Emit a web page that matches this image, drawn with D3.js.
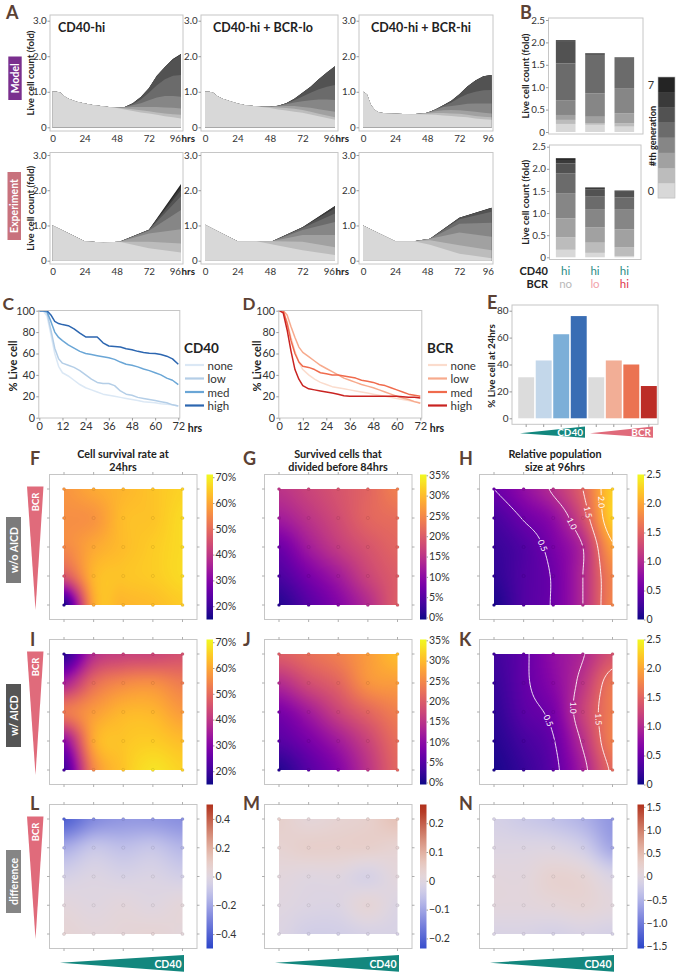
<!DOCTYPE html>
<html>
<head>
<meta charset="utf-8">
<script src="https://cdn.jsdelivr.net/npm/d3@7/dist/d3.min.js"></script>
<style>
html,body{margin:0;padding:0;background:#fff;}
svg{display:block;}
text{font-family:Lato,"Open Sans",Arial,sans-serif;}
</style>
</head>
<body>
<svg id="fig" width="676" height="974" viewBox="0 0 676 974"></svg>
<script>
// ======================= DATA =======================
const generations = ["g0","g1","g2","g3","g4","g5","g6","g7"];
const genColors = ["#d8d8d8","#bcbcbc","#a1a1a1","#868686","#6b6b6b","#525252","#3a3a3a","#242424"];
const genTickLabels = ["0","7"];

const conditionTitles = ["CD40-hi","CD40-hi + BCR-lo","CD40-hi + BCR-hi"];
const countTicks = [0,1,2,3];
const countTickLabels = ["0","1.0","2.0","3.0"];
const hourTicks = [0,24,48,72,96];

// model: live cell count per generation (rows = generation 0..7)
const modelTimes = [0,3,6,9,12,18,24,30,36,42,48,54,60,66,72,78,84,90,96];
const modelCD40hi = [
  [1.0,1.0,0.97,0.87,0.80,0.72,0.67,0.63,0.60,0.57,0.54,0.50,0.46,0.42,0.39,0.35,0.31,0.28,0.25],
  [0,0,0,0,0,0,0,0,0,0,0.02,0.03,0.05,0.06,0.06,0.07,0.08,0.09,0.10],
  [0,0,0,0,0,0,0,0,0,0,0,0.03,0.06,0.09,0.12,0.15,0.17,0.18,0.18],
  [0,0,0,0,0,0,0,0,0,0,0,0.01,0.05,0.11,0.19,0.27,0.32,0.33,0.33],
  [0,0,0,0,0,0,0,0,0,0,0,0,0.03,0.10,0.21,0.34,0.47,0.57,0.61],
  [0,0,0,0,0,0,0,0,0,0,0,0,0.03,0.07,0.13,0.27,0.35,0.45,0.57],
  [0,0,0,0,0,0,0,0,0,0,0,0,0,0,0,0,0,0.02,0.02],
  [0,0,0,0,0,0,0,0,0,0,0,0,0,0,0,0,0,0,0]
];
const modelBCRlo = [
  [1.0,1.0,0.97,0.88,0.82,0.74,0.67,0.62,0.60,0.57,0.54,0.50,0.47,0.44,0.41,0.36,0.31,0.26,0.21],
  [0,0,0,0,0,0,0,0,0,0.01,0.03,0.06,0.07,0.08,0.08,0.08,0.07,0.07,0.07],
  [0,0,0,0,0,0,0,0,0,0,0.01,0.03,0.06,0.08,0.08,0.11,0.13,0.14,0.16],
  [0,0,0,0,0,0,0,0,0,0,0,0.01,0.05,0.10,0.16,0.21,0.27,0.31,0.33],
  [0,0,0,0,0,0,0,0,0,0,0,0.01,0.02,0.06,0.14,0.21,0.29,0.36,0.42],
  [0,0,0,0,0,0,0,0,0,0,0,0,0.01,0.04,0.10,0.17,0.28,0.40,0.53],
  [0,0,0,0,0,0,0,0,0,0,0,0,0,0,0,0,0,0,0],
  [0,0,0,0,0,0,0,0,0,0,0,0,0,0,0,0,0,0,0]
];
const modelBCRhi = [
  [1.0,0.92,0.62,0.48,0.42,0.39,0.38,0.375,0.37,0.37,0.36,0.35,0.33,0.32,0.30,0.28,0.25,0.23,0.21],
  [0,0,0,0,0,0,0,0,0,0.01,0.03,0.05,0.07,0.07,0.08,0.07,0.07,0.07,0.07],
  [0,0,0,0,0,0,0,0,0,0,0.02,0.05,0.08,0.10,0.10,0.11,0.12,0.11,0.11],
  [0,0,0,0,0,0,0,0,0,0,0,0.04,0.09,0.11,0.15,0.20,0.23,0.26,0.28],
  [0,0,0,0,0,0,0,0,0,0,0,0.01,0.03,0.10,0.20,0.28,0.33,0.37,0.38],
  [0,0,0,0,0,0,0,0,0,0,0,0,0.02,0.05,0.10,0.21,0.32,0.40,0.42],
  [0,0,0,0,0,0,0,0,0,0,0,0,0,0,0,0,0,0,0],
  [0,0,0,0,0,0,0,0,0,0,0,0,0,0,0,0,0,0,0]
];
// experiment
const expTimes = [0,24,38,50,72,96];
const expCD40hi = [
  [1.0,0.55,0.52,0.54,0.35,0.23],[0,0,0,0,0.19,0.26],[0,0,0,0,0.23,0.40],[0,0,0,0,0.08,0.55],
  [0,0,0,0,0.02,0.39],[0,0,0,0,0.01,0.17],[0,0,0,0,0,0.10],[0,0,0,0,0,0.08]
];
const expBCRlo = [
  [1.02,0.55,0.55,0.46,0.30,0.16],[0,0,0,0.09,0.24,0.22],[0,0,0,0.01,0.19,0.35],[0,0,0,0,0.14,0.37],
  [0,0,0,0,0.06,0.24],[0,0,0,0,0.02,0.15],[0,0,0,0,0,0.06],[0,0,0,0,0,0]
];
const expBCRhi = [
  [1.0,0.55,0.55,0.45,0.20,0.07],[0,0,0,0.13,0.24,0.23],[0,0,0,0.04,0.36,0.38],[0,0,0,0,0.25,0.40],
  [0,0,0,0,0.13,0.31],[0,0,0,0,0.04,0.10],[0,0,0,0,0,0.01],[0,0,0,0,0,0]
];

// panel B: per-generation counts per condition (generation 0..7)
const barConditions = ["hi/no","hi/lo","hi/hi"];
const barCD40Labels = ["hi","hi","hi"];
const barBCRLabels = ["no","lo","hi"];
const barModel = [
  [0.18,0.09,0.11,0.33,0.82,0.50,0.02,0],
  [0.16,0.04,0.14,0.52,0.86,0.04,0,0],
  [0.12,0.07,0.23,0.56,0.69,0,0,0]
];
const barExp = [
  [0.17,0.28,0.43,0.57,0.45,0.22,0.08,0.04],
  [0.10,0.23,0.35,0.41,0.28,0.17,0.04,0],
  [0.03,0.20,0.40,0.46,0.26,0.13,0.03,0]
];
const barTicks = [0,0.5,1,1.5,2,2.5];
const barTickLabels = ["0","0.5","1.0","1.5","2.0","2.5"];

// panels C, D: % live cell over time
const survTimes = [0,2,4,6,8,10,12,15,18,21,24,27,30,33,36,39,42,45,48,51,54,57,60,63,66,69,72];
const levelNames = ["none","low","med","high"];
const cd40None = [100,100,95,78,60,48,42,39,35,31,28,26,24,22,21,20,19,18,17,16,15,14.5,14,13,12.5,12,11];
const cd40Low  = [100,100,98,82,65,55,51,49,47,44,40,36,33,32,32,30,25,22,21,19,18,17,16,15,14,12,11];
const cd40Med  = [100,100,99,90,80,75,72,68,65,62,60,59,58,57,56,54.5,52,50,49,47.5,45.5,44,42,40,37,35,31];
const cd40High = [100,100,100,96,90,88,87,86,83,79,75.5,75.5,75.5,70,67,66.5,66,64.5,63.5,62,61,60.3,60,59,57.5,55,50];
const bcrNone  = [100,98,90,75,62,52,45,40,36,33,31,29,28,27,26,25,24,23,22,21,20,19,18,17,16,15,14];
const bcrLow   = [100,100,96,85,75,66,61,57,53,49,46,43,40,37,35,33,31,29.5,28,26,24,22,20,18.5,17,15,13.5];
const bcrMed   = [100,100,88,72,60,52,48,47,45,42,41,40,40,39,38,37,35,34,33,31,30,28,26,24,22,21,20];
const bcrHigh  = [100,98,82,62,45,36,30,27,26,25,24,23,22,20.5,20,20,20,20,20,20,20,20,20,19.5,19,19,18.5];
const pctTicks = [0,20,40,60,80,100];
const survHourTicks = [0,12,24,36,48,60,72];

// panel E: % live cell at 24 hrs
const e24Groups = ["none","low","med","high","none","low","med","high"];
const e24Values = [30.5,43,62.5,76,30.5,43,40,24];
const e24Ticks = [0,20,40,60,80];

// panels F-N: 5x5 grids (rows: BCR high -> low, cols: CD40 low -> high)
const survNoAICD = [[57,60,62,64,66],[56,57,63,64,67],[55,60,63,65,67],[46,62,64,65,67],[17,60,62,63,65]];
const divNoAICD  = [[15,17,19,21,24],[12,15,18,21,22],[7,12,16,19,21],[4,8,12,17,20],[1,5,9,14,20]];
const popNoAICD  = [[0.50,0.75,1.05,1.50,2.25],[0.30,0.52,0.75,1.30,2.25],[0.20,0.35,0.60,1.00,1.95],[0.15,0.35,0.53,1.00,1.75],[0.06,0.35,0.53,1.00,1.75]];
const survAICD   = [[18,38,42,43,45],[36,50,55,56,53],[52,58,62,62,58],[32,60,64,65,63],[21,55,64,68,66]];
const divAICD    = [[20,22,24,27,30],[14,18,21,26,27],[8,12,17,21,24],[5,8,12,17,22],[1,5,9,15,21]];
const popAICD    = [[0.25,0.45,0.75,0.98,1.35],[0.20,0.45,0.70,1.10,1.65],[0.15,0.40,0.59,1.20,1.70],[0.10,0.28,0.48,1.05,1.72],[0.05,0.20,0.42,0.90,1.55]];
const diffSurv   = [[-0.40,-0.28,-0.24,-0.24,-0.26],[-0.18,-0.10,-0.12,-0.10,-0.15],[-0.05,-0.02,-0.04,-0.03,-0.06],[0.02,0.00,0.02,0.00,0.03],[0.05,0.03,0.04,0.05,0.03]];
const diffDiv    = [[0.04,0.02,0.03,0.04,0.07],[0.03,0.04,0.04,0.04,0.03],[0.01,0.0,0.0,-0.02,0.01],[0.0,-0.01,-0.01,0.02,-0.01],[-0.01,-0.03,-0.03,-0.02,-0.02]];
const diffPop    = [[-0.15,-0.25,-0.35,-0.5,-0.75],[-0.05,-0.05,-0.05,-0.2,-0.6],[0.05,0.05,0.2,0.15,-0.1],[0.05,0.05,0.1,0.15,0.05],[-0.1,-0.1,-0.15,-0.1,-0.15]];

const survCbTicks = [20,30,40,50,60,70];
const divCbTicks = [0,5,10,15,20,25,30,35];
const popCbTicks = [0,0.5,1,1.5,2,2.5];
const diffSurvTicks = [-0.4,-0.2,0,0.2,0.4];
const diffDivTicks = [-0.2,-0.1,0,0.1,0.2];
const diffPopTicks = [-1.5,-1.0,-0.5,0,0.5,1.0,1.5];
const popContourLevels = [0.5,1.0,1.5,2.0];

// ======================= DRAWING =======================
const svg = d3.select("#fig");
const FONT = 'Lato, "Open Sans", Arial, sans-serif';
const TXT = "#333333", FRAME = "#c6c6c6", TICK = "#9a9a9a", BROWN = "#5b4134";

function T(x, y, s, o = {}) {
  const t = svg.append("text").attr("x", x).attr("y", y).text(s)
    .attr("font-size", o.size || 10).attr("fill", o.fill || TXT)
    .attr("font-weight", o.weight || 400).attr("text-anchor", o.anchor || "start");
  if (o.rot != null) t.attr("transform", `rotate(${o.rot},${x},${y})`);
  if (o.mid) t.attr("dominant-baseline", "central");
  return t;
}
function letter(x, y, s, size = 18) { T(x, y, s, {size, weight: 700, fill: BROWN}); }
function frame(x0, y0, x1, y1) {
  svg.append("rect").attr("x", x0).attr("y", y0).attr("width", x1 - x0).attr("height", y1 - y0)
    .attr("fill", "none").attr("stroke", FRAME).attr("stroke-width", 1);
}
function styleAxis(g, size) {
  g.attr("font-family", FONT).attr("font-size", size);
  g.select(".domain").remove();
  g.selectAll(".tick line").attr("stroke", TICK);
  g.selectAll(".tick text").attr("fill", TXT);
}
function sideLabel(x, y, w, h, fill, s) {
  svg.append("rect").attr("x", x).attr("y", y).attr("width", w).attr("height", h).attr("fill", fill);
  T(x + w / 2, y + h / 2, s, {size: 10.5, weight: 700, fill: "#fff", anchor: "middle", rot: -90, mid: true});
}

// ---------- Panel A ----------
letter(6, 18.5, "A");
const aCols = [{x0: 50, x1: 183, r: [52.5, 181]}, {x0: 201, x1: 338, r: [205, 335]}, {x0: 359, x1: 493, r: [363, 491.5]}];
const aRows = [
  {top: 15, bottom: 131, r: [127.3, 20.7], times: modelTimes, sets: [modelCD40hi, modelBCRlo, modelBCRhi]},
  {top: 152.5, bottom: 264, r: [260.7, 155], times: expTimes, sets: [expCD40hi, expBCRlo, expBCRhi]}
];
aRows.forEach((row, ri) => {
  aCols.forEach((col, ci) => {
    const x = d3.scaleLinear().domain([0, 96]).range(col.r);
    const y = d3.scaleLinear().domain([0, 3]).range(row.r);
    const set = row.sets[ci];
    const table = row.times.map((t, i) => { const o = {t}; generations.forEach((g, k) => o[g] = set[k][i]); return o; });
    const series = d3.stack().keys(generations)(table);
    // draw cumulative areas from the top generation down, so layers never leave seams
    const area = d3.area().x(d => x(d.data.t)).y0(y(0)).y1(d => y(d[1]));
    for (let k = series.length - 1; k >= 0; k--) {
      svg.append("path").attr("d", area(series[k])).attr("fill", genColors[k]);
    }
    frame(col.x0, row.top, col.x1, row.bottom);
    const yg = svg.append("g").attr("transform", `translate(${col.x0},0)`)
      .call(d3.axisLeft(y).tickValues(countTicks).tickFormat((d, i) => countTickLabels[i]).tickSize(2.5).tickPadding(0.8));
    styleAxis(yg, 9.8);
    const xg = svg.append("g").attr("transform", `translate(0,${row.bottom})`)
      .call(d3.axisBottom(x).tickValues(hourTicks).tickFormat(d => d).tickSize(0).tickPadding(4));
    styleAxis(xg, 9.8);
    xg.selectAll(".tick text").filter(d => d === 96).attr("text-anchor", "end").attr("dx", ci < 2 ? -0.5 : 2);
    if (ci < 2) T(x(96) + 0.5, row.bottom + 11.3, "hrs", {size: 9.8, weight: 700, fill: "#222"});
    if (ri === 0) T(col.x0 + (ci === 0 ? 8 : 12), 32, conditionTitles[ci], {size: 12.5, weight: 700, fill: "#222"});
  });
  const cy = (row.top + row.bottom) / 2;
  T(30.5, cy, "Live cell count (fold)", {size: 9.6, weight: 700, fill: "#222", anchor: "middle", rot: -90, mid: true});
});
sideLabel(8.3, 56.5, 13.4, 43.5, "#7a2f8e", "Model");
sideLabel(7.5, 172, 13.5, 68, "#c8727d", "Experiment");

// ---------- Panel B ----------
letter(520, 18.5, "B");
const bBoxes = [
  {x0: 548.5, x1: 643, top: 18, bottom: 134, r: [132, 20], data: barModel},
  {x0: 549.5, x1: 641, top: 145, bottom: 259.5, r: [257.3, 146.7], data: barExp}
];
const bx = d3.scaleBand().domain(barConditions).range([550, 640]).paddingInner(0.33).paddingOuter(0.2);
bBoxes.forEach(b => {
  const y = d3.scaleLinear().domain([0, 2.5]).range(b.r);
  const table = b.data.map((gs, i) => { const o = {c: barConditions[i]}; generations.forEach((g, k) => o[g] = gs[k]); return o; });
  const series = d3.stack().keys(generations)(table);
  series.forEach((s, k) => {
    svg.append("g").selectAll("rect").data(s).join("rect")
      .attr("x", d => bx(d.data.c)).attr("width", bx.bandwidth())
      .attr("y", d => y(d[1])).attr("height", d => Math.max(0, y(d[0]) - y(d[1])))
      .attr("fill", genColors[k]);
  });
  frame(b.x0, b.top, b.x1, b.bottom);
  const yg = svg.append("g").attr("transform", `translate(${b.x0},0)`)
    .call(d3.axisLeft(y).tickValues(barTicks).tickFormat((d, i) => barTickLabels[i]).tickSize(2.5).tickPadding(1));
  styleAxis(yg, 9.8);
  T(525.5, (b.top + b.bottom) / 2, "Live cell count (fold)", {size: 9.6, weight: 700, fill: "#222", anchor: "middle", rot: -90, mid: true});
});
// generation colour bar
const gcb = d3.scaleBand().domain(d3.range(8)).range([198, 77]);
svg.append("g").selectAll("rect").data(d3.range(8)).join("rect")
  .attr("x", 658).attr("width", 17).attr("y", d => gcb(d)).attr("height", gcb.bandwidth() + 0.3)
  .attr("fill", d => genColors[d]);
svg.append("rect").attr("x", 658).attr("y", 77).attr("width", 17).attr("height", 121).attr("fill", "none").attr("stroke", "#bbb").attr("stroke-width", 0.6);
T(651, gcb(7) + gcb.bandwidth() / 2, genTickLabels[1], {size: 11, anchor: "middle", mid: true});
T(651, gcb(0) + gcb.bandwidth() / 2, genTickLabels[0], {size: 11, anchor: "middle", mid: true});
T(652, 136, "#th generation", {size: 9.2, weight: 700, fill: "#222", anchor: "middle", rot: -90, mid: true});
// condition labels
T(548, 274.5, "CD40", {size: 11, weight: 700, fill: "#222", anchor: "end"});
T(548, 287.5, "BCR", {size: 11, weight: 700, fill: "#222", anchor: "end"});
const bcrLabelColors = ["#b9b9b9", "#f2a3ab", "#e0364b"];
barConditions.forEach((c, i) => {
  T(bx(c) + bx.bandwidth() / 2, 274.5, barCD40Labels[i], {size: 11.5, fill: "#2a8c86", anchor: "middle"});
  T(bx(c) + bx.bandwidth() / 2, 287.5, barBCRLabels[i], {size: 11.5, fill: bcrLabelColors[i], anchor: "middle"});
});

// ---------- Panels C & D ----------
function survivalPanel(cfg) {
  const x = d3.scaleLinear().domain([0, 72]).range([cfg.px0, cfg.px1]);
  const y = d3.scaleLinear().domain([0, 100]).range([417.7, 310.7]);
  const line = d3.line().x((d, i) => x(survTimes[i])).y(d => y(d));
  cfg.series.forEach((s, k) => svg.append("path").attr("d", line(s)).attr("fill", "none")
    .attr("stroke", cfg.colors[k]).attr("stroke-width", 1.5).attr("stroke-linejoin", "round"));
  frame(cfg.px0 - 0.5, 310.5, cfg.px1 + 1.5, 418);
  const yg = svg.append("g").attr("transform", `translate(${cfg.px0 - 0.5},0)`)
    .call(d3.axisLeft(y).tickValues(pctTicks).tickSize(2.5).tickPadding(1.2));
  styleAxis(yg, 10.8);
  const xg = svg.append("g").attr("transform", "translate(0,418)")
    .call(d3.axisBottom(x).tickValues(survHourTicks).tickSize(2.5).tickPadding(2));
  styleAxis(xg, 11);
  T(cfg.px1 + 9.5, 431.5, "hrs", {size: 10.5, weight: 700, fill: "#222"});
  T(cfg.ylabX, 366, "% Live cell", {size: 11, weight: 700, fill: "#222", anchor: "middle", rot: -90, mid: true});
  T(cfg.legX, 352.7, cfg.title, {size: 13.5, weight: 700, fill: "#222"});
  levelNames.forEach((n, k) => {
    const yy = 365 + k * 13.5;
    svg.append("line").attr("x1", cfg.legX + 1).attr("x2", cfg.legX + 20).attr("y1", yy).attr("y2", yy)
      .attr("stroke", cfg.colors[k]).attr("stroke-width", 2.2);
    T(cfg.legX + 23.5, yy, n, {size: 11.5, fill: "#333", mid: true});
  });
}
letter(2.5, 310, "C", 17.5);
survivalPanel({px0: 39.3, px1: 178.3, series: [cd40None, cd40Low, cd40Med, cd40High],
  colors: ["#dbe8f5", "#b4cee7", "#6aa6d6", "#2c66b0"], title: "CD40", legX: 184, ylabX: 12});
letter(242.5, 310, "D", 17);
survivalPanel({px0: 279.3, px1: 420.3, series: [bcrNone, bcrLow, bcrMed, bcrHigh],
  colors: ["#fbdccd", "#f7aa8d", "#f06b4d", "#c92321"], title: "BCR", legX: 427, ylabX: 256.5});

// ---------- Panel E ----------
letter(487, 309, "E");
{
  const ex = d3.scaleBand().domain(d3.range(8)).range([517.5, 657.5]).paddingInner(0.09).paddingOuter(0.04);
  const ey = d3.scaleLinear().domain([0, 80]).range([418.3, 310.7]);
  const eColors = ["#dcdcdc", "#c3d7ea", "#7cafd8", "#396db4", "#dcdcdc", "#f2ae96", "#eb7352", "#bc2d27"];
  svg.append("g").selectAll("rect").data(e24Values).join("rect")
    .attr("x", (d, i) => ex(i)).attr("width", ex.bandwidth())
    .attr("y", d => ey(d)).attr("height", d => ey(0) - ey(d)).attr("fill", (d, i) => eColors[i]);
  frame(512, 305, 658, 424.3);
  const yg = svg.append("g").attr("transform", "translate(512,0)")
    .call(d3.axisLeft(ey).tickValues(e24Ticks).tickSize(2.5).tickPadding(1));
  styleAxis(yg, 10);
  svg.append("g").selectAll("line").data(d3.range(8)).join("line")
    .attr("x1", i => ex(i) + ex.bandwidth() / 2).attr("x2", i => ex(i) + ex.bandwidth() / 2)
    .attr("y1", 424.3).attr("y2", 427).attr("stroke", TICK);
  T(490.5, 366, "% Live cell at 24hrs", {size: 9.8, weight: 700, fill: "#222", anchor: "middle", rot: -90, mid: true});
  svg.append("polygon").attr("points", "520,433.3 585,426.5 585,437.8").attr("fill", "#13877e");
  T(583, 436.3, "CD40", {size: 10, weight: 700, fill: "#fff", anchor: "end"});
  svg.append("polygon").attr("points", "590,433.3 653,426.5 653,437.8").attr("fill", "#e06b7b");
  T(651, 436.3, "BCR", {size: 10, weight: 700, fill: "#fff", anchor: "end"});
}

// ---------- Panels F-N ----------
function cr(p0, p1, p2, p3, t) {
  return 0.5 * ((2 * p1) + (-p0 + p2) * t + (2 * p0 - 5 * p1 + 4 * p2 - p3) * t * t + (-p0 + 3 * p1 - 3 * p2 + p3) * t * t * t);
}
function sampleGrid(g, cx, cy) {
  const n = g.length, m = g[0].length;
  const ix = Math.min(Math.floor(cx), m - 2), iy = Math.min(Math.floor(cy), n - 2);
  const tx = cx - ix, ty = cy - iy;
  const G = (r, c) => g[Math.max(0, Math.min(n - 1, r))][Math.max(0, Math.min(m - 1, c))];
  const rows = [];
  for (let k = -1; k <= 2; k++) { const r = iy + k; rows.push(cr(G(r, ix - 1), G(r, ix), G(r, ix + 1), G(r, ix + 2), tx)); }
  return cr(rows[0], rows[1], rows[2], rows[3], ty);
}
const divergingRamp = d3.interpolateRgbBasis(["#2b45c9", "#8e90e2", "#f3f3f3", "#e0a28d", "#b1311c"]);
function divergingScale(max) { return d3.scaleSequential(t => divergingRamp(t)).domain([-max, max]).clamp(true); }

const hmCols = [
  {ix0: 64, ix1: 182.5, cb: 206.5, lx: 30, tx: 123},
  {ix0: 279, ix1: 397.5, cb: 420, lx: 243, tx: 338},
  {ix0: 494, ix1: 612.5, cb: 637.5, lx: 459, tx: 555}
];
const hmRows = [
  {iy0: 489, iy1: 605, ly: 465},
  {iy0: 654, iy1: 770, ly: 646},
  {iy0: 819, iy1: 934, ly: 810}
];
const plasmaSurv = d3.scaleSequential(d3.interpolatePlasma).domain([14.85, 71.05]).clamp(true);
const plasmaDiv = d3.scaleSequential(d3.interpolatePlasma).domain([-0.5, 35.2]).clamp(true);
const plasmaPop = d3.scaleSequential(d3.interpolatePlasma).domain([0, 2.5]).clamp(true);
const pctFmt = d => d + "%";
const decFmt = d => d === 0 ? "0" : d3.format(".1f")(d);
const panels = [
  {r: 0, c: 0, L: "F", grid: survNoAICD, color: plasmaSurv, dom: [14.85, 71.05], ticks: survCbTicks, fmt: pctFmt, title: ["Cell survival rate at", "24hrs"]},
  {r: 0, c: 1, L: "G", grid: divNoAICD, color: plasmaDiv, dom: [-0.5, 35.2], ticks: divCbTicks, fmt: pctFmt, title: ["Survived cells that", "divided before 84hrs"]},
  {r: 0, c: 2, L: "H", grid: popNoAICD, color: plasmaPop, dom: [0, 2.5], ticks: popCbTicks, fmt: decFmt, title: ["Relative population", "size at 96hrs"], contours: popContourLevels, lab: [0.55, 0.33, 0.2, 0.22]},
  {r: 1, c: 0, L: "I", grid: survAICD, color: plasmaSurv, dom: [14.85, 71.05], ticks: survCbTicks, fmt: pctFmt},
  {r: 1, c: 1, L: "J", grid: divAICD, color: plasmaDiv, dom: [-0.5, 35.2], ticks: divCbTicks, fmt: pctFmt},
  {r: 1, c: 2, L: "K", grid: popAICD, color: plasmaPop, dom: [0, 2.5], ticks: popCbTicks, fmt: decFmt, contours: popContourLevels.slice(0, 3), lab: [0.58, 0.45, 0.5]},
  {r: 2, c: 0, L: "L", grid: diffSurv, color: divergingScale(0.5), dom: [-0.5, 0.5], ticks: diffSurvTicks, fmt: decFmt},
  {r: 2, c: 1, L: "M", grid: diffDiv, color: divergingScale(0.25), dom: [-0.235, 0.265], ticks: diffDivTicks, fmt: decFmt},
  {r: 2, c: 2, L: "N", grid: diffPop, color: divergingScale(1.55), dom: [-1.55, 1.55], ticks: diffPopTicks, fmt: decFmt}
];
const defs = svg.append("defs");
panels.forEach((p, pi) => {
  const C = hmCols[p.c], R = hmRows[p.r];
  const {ix0, ix1} = C, {iy0, iy1} = R;
  const gx = d3.scaleLinear().domain([0, 4]).range([ix0, ix1]);
  const gy = d3.scaleLinear().domain([0, 4]).range([iy0, iy1]);
  // surface
  const W = Math.round(ix1 - ix0), H = Math.round(iy1 - iy0);
  const cv = document.createElement("canvas"); cv.width = W; cv.height = H;
  const ctx = cv.getContext("2d"); const img = ctx.createImageData(W, H);
  for (let j = 0; j < H; j++) for (let i = 0; i < W; i++) {
    const v = sampleGrid(p.grid, i / (W - 1) * 4, j / (H - 1) * 4);
    const c = d3.rgb(p.color(v)); const o = (j * W + i) * 4;
    img.data[o] = c.r; img.data[o + 1] = c.g; img.data[o + 2] = c.b; img.data[o + 3] = 255;
  }
  ctx.putImageData(img, 0, 0);
  svg.append("image").attr("x", ix0).attr("y", iy0).attr("width", ix1 - ix0).attr("height", iy1 - iy0)
    .attr("preserveAspectRatio", "none").attr("href", cv.toDataURL());
  // contours
  if (p.contours) {
    const N = 81, vals = new Array(N * N);
    for (let j = 0; j < N; j++) for (let i = 0; i < N; i++) vals[j * N + i] = sampleGrid(p.grid, i / (N - 1) * 4, j / (N - 1) * 4);
    const cs = d3.contours().size([N, N]).thresholds(p.contours)(vals);
    const sx = c => ix0 + (c - 0.5) / (N - 1) * (ix1 - ix0), sy = c => iy0 + (c - 0.5) / (N - 1) * (iy1 - iy0);
    const onB = pt => pt[0] < 0.5 || pt[0] > N - 0.5 || pt[1] < 0.5 || pt[1] > N - 0.5;
    const maskId = "cm" + pi, clipId = "cc" + pi;
    defs.append("clipPath").attr("id", clipId).append("rect").attr("x", ix0).attr("y", iy0).attr("width", ix1 - ix0).attr("height", iy1 - iy0);
    const mask = defs.append("mask").attr("id", maskId).attr("maskUnits", "userSpaceOnUse")
      .attr("x", 0).attr("y", 0).attr("width", 676).attr("height", 974);
    mask.append("rect").attr("x", 0).attr("y", 0).attr("width", 676).attr("height", 974).attr("fill", "#fff");
    const lg = svg.append("g").attr("clip-path", `url(#${clipId})`).attr("mask", `url(#${maskId})`);
    const labels = [];
    cs.forEach((c, ci) => {
      const lines = [];
      c.coordinates.forEach(poly => poly.forEach(ring => {
        const pts = ring.slice(0, -1);
        const bIdx = pts.findIndex(onB);
        if (bIdx < 0) { lines.push(ring.map(q => [sx(q[0]), sy(q[1])])); return; }
        const rot = pts.slice(bIdx).concat(pts.slice(0, bIdx));
        let cur = [];
        rot.forEach(q => {
          if (onB(q)) { if (cur.length > 1) lines.push(cur); cur = []; }
          else cur.push([sx(q[0]), sy(q[1])]);
        });
        if (cur.length > 1) lines.push(cur);
      }));
      lines.forEach(l => lg.append("path").attr("d", d3.line()(l)).attr("fill", "none").attr("stroke", "#fff").attr("stroke-width", 0.9));
      if (!lines.length) return;
      const len = l => d3.sum(l.slice(1), (q, i) => Math.hypot(q[0] - l[i][0], q[1] - l[i][1]));
      const best = lines.reduce((a, b) => len(b) > len(a) ? b : a);
      const target = len(best) * (p.lab ? p.lab[ci] : 0.5);
      let acc = 0, k = 1;
      for (; k < best.length; k++) { acc += Math.hypot(best[k][0] - best[k - 1][0], best[k][1] - best[k - 1][1]); if (acc >= target) break; }
      k = Math.min(k, best.length - 1);
      const a = best[Math.max(0, k - 3)], b = best[Math.min(best.length - 1, k + 3)];
      let ang = Math.atan2(b[1] - a[1], b[0] - a[0]) * 180 / Math.PI;
      if (ang > 90) ang -= 180; if (ang < -90) ang += 180;
      labels.push({x: best[k][0], y: best[k][1], ang, s: d3.format(".1f")(p.contours[ci])});
    });
    labels.forEach(l => {
      mask.append("rect").attr("x", -7).attr("y", -3.5).attr("width", 14).attr("height", 7).attr("fill", "#000")
        .attr("transform", `translate(${l.x},${l.y}) rotate(${l.ang})`);
      svg.append("text").attr("transform", `translate(${l.x},${l.y}) rotate(${l.ang})`)
        .attr("text-anchor", "middle").attr("dominant-baseline", "central")
        .attr("font-size", 8.5).attr("fill", "#fff").attr("font-family", FONT).text(l.s);
    });
  }
  // sample points
  const pts = [];
  p.grid.forEach((row, r) => row.forEach((v, c) => pts.push({r, c, v})));
  svg.append("g").selectAll("circle").data(pts).join("circle")
    .attr("cx", d => gx(d.c)).attr("cy", d => gy(d.r)).attr("r", 1.6)
    .attr("fill", d => p.color(d.v)).attr("stroke", "rgba(0,0,0,0.15)").attr("stroke-width", 0.5);
  // frame + ticks
  const fx0 = ix0 - 14.5, fx1 = ix1 + 14.5, fy0 = iy0 - 14.5, fy1 = iy1 + 14.5;
  frame(fx0, fy0, fx1, fy1);
  const tg = svg.append("g").attr("stroke", TICK).attr("stroke-width", 0.8);
  d3.range(5).forEach(i => {
    tg.append("line").attr("x1", gx(i)).attr("x2", gx(i)).attr("y1", fy0).attr("y2", fy0 - 2.5);
    tg.append("line").attr("x1", gx(i)).attr("x2", gx(i)).attr("y1", fy1).attr("y2", fy1 + 2.5);
    tg.append("line").attr("y1", gy(i)).attr("y2", gy(i)).attr("x1", fx0).attr("x2", fx0 - 2.5);
    tg.append("line").attr("y1", gy(i)).attr("y2", gy(i)).attr("x1", fx1).attr("x2", fx1 + 2.5);
  });
  // colour bar
  const gid = "grad" + pi;
  const grad = defs.append("linearGradient").attr("id", gid).attr("x1", 0).attr("y1", 1).attr("x2", 0).attr("y2", 0);
  d3.range(0, 1.0001, 0.05).forEach(t => grad.append("stop").attr("offset", t)
    .attr("stop-color", p.color(p.dom[0] + t * (p.dom[1] - p.dom[0]))));
  svg.append("rect").attr("x", C.cb).attr("y", fy0).attr("width", 6.5).attr("height", fy1 - fy0).attr("fill", `url(#${gid})`);
  const cbY = d3.scaleLinear().domain(p.dom).range([fy1, fy0]);
  const cg = svg.append("g").attr("transform", `translate(${C.cb + 6.5},0)`)
    .call(d3.axisRight(cbY).tickValues(p.ticks).tickFormat(p.fmt).tickSize(1.5).tickPadding(1));
  styleAxis(cg, 10.5);
  // letters & titles
  letter(C.lx, R.ly, p.L);
  if (p.title) {
    T(C.tx, 458, p.title[0], {size: 10.8, weight: 700, fill: "#222", anchor: "middle"});
    T(C.tx, 471, p.title[1], {size: 10.8, weight: 700, fill: "#222", anchor: "middle"});
  }
  // CD40 wedge under bottom row
  if (p.r === 2) {
    svg.append("polygon").attr("points", `${ix0 - 4},962.7 ${ix1 + 1.5},955 ${ix1 + 1.5},971.7`).attr("fill", "#13877e");
    T(ix1 - 1, 967.5, "CD40", {size: 10.5, weight: 700, fill: "#fff", anchor: "end"});
  }
  // BCR wedge left of first column
  if (p.c === 0) {
    svg.append("polygon").attr("points", `27,${iy0 - 2.5} 43.5,${iy0 - 2.5} 35.5,${iy1 + 5}`).attr("fill", "#e06b7b");
    T(35.3, iy0 + 13, "BCR", {size: 9.5, weight: 700, fill: "#fff", anchor: "middle", rot: -90, mid: true});
  }
});
sideLabel(6, 517, 15, 66, "#7b7b7b", "w/o AICD");
sideLabel(6, 684, 15, 63, "#555555", "w/ AICD");
sideLabel(6, 850, 15, 63, "#858585", "difference");
</script>
</body>
</html>
